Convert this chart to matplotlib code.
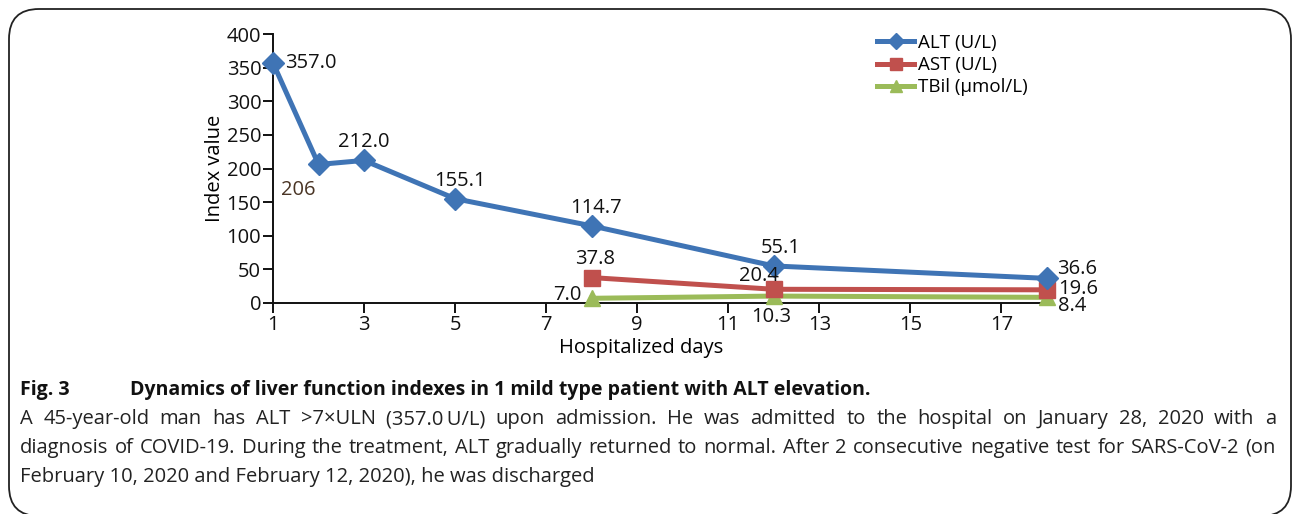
import matplotlib
matplotlib.use("Agg")
import matplotlib.pyplot as plt
from matplotlib.patches import FancyBboxPatch

plt.rcParams['font.family'] = ['Open Sans', 'DejaVu Sans']

days_alt = [1, 2, 3, 5, 8, 12, 18]
alt = [357.0, 206, 212.0, 155.1, 114.7, 55.1, 36.6]
alt_labels = ['357.0', '206', '212.0', '155.1', '114.7', '55.1', '36.6']

days_ast = [8, 12, 18]
ast = [37.8, 20.4, 19.6]
ast_labels = ['37.8', '20.4', '19.6']

days_tbil = [8, 12, 18]
tbil = [7.0, 10.3, 8.4]
tbil_labels = ['7.0', '10.3', '8.4']

xticks = [1, 3, 5, 7, 9, 11, 13, 15, 17]
yticks = [0, 50, 100, 150, 200, 250, 300, 350, 400]

c_alt = '#3f74b5'
c_ast = '#c0504d'
c_tbil = '#9bbb59'

W, H = 1292, 514
fig = plt.figure(figsize=(W / 100, H / 100), dpi=100)

# background frame with rounded corners (pixel coords)
bg = fig.add_axes([0, 0, 1, 1])
bg.set_xlim(0, W)
bg.set_ylim(H, 0)
bg.axis('off')
bg.add_patch(FancyBboxPatch((9 + 30, 9 + 30), W - 1 - 9 - 60, 516 - 9 - 60,
                            boxstyle='round,pad=30,rounding_size=30',
                            fc='white', ec='#222222', lw=1.3))

L, R, T, B = 273, 1047, 34, 303
ax = fig.add_axes([L / W, 1 - B / H, (R - L) / W, (B - T) / H])
ax.patch.set_alpha(0)

ax.plot(days_alt, alt, color=c_alt, lw=3.6, marker='D', ms=11.5, label='ALT (U/L)', clip_on=False, zorder=5)
ax.plot(days_ast, ast, color=c_ast, lw=3.6, marker='s', ms=11, label='AST (U/L)', clip_on=False, zorder=4)
ax.plot(days_tbil, tbil, color=c_tbil, lw=3.6, marker='^', ms=12, label='TBil (μmol/L)', clip_on=False, zorder=3)

fs = 14.5
ax.set_xlim(1, 18)
ax.set_ylim(0, 400)
ax.set_xticks(xticks)
ax.set_yticks(yticks)
ax.spines['top'].set_visible(False)
ax.spines['right'].set_visible(False)
for s in ['left', 'bottom']:
    ax.spines[s].set_linewidth(1.4)
    ax.spines[s].set_color('#111111')
ax.tick_params(direction='out', length=7, width=1.4, labelsize=fs, pad=1.5, colors='#111111')

ax.set_xlabel('Hospitalized days', fontsize=fs, labelpad=1)
ax.xaxis.set_label_coords((641 - L) / (R - L), -0.13)
ax.set_ylabel('Index value', fontsize=fs, labelpad=1)

# data labels: offsets in pixels (dx, dy up), alignment
px = 0.72
alt_off = [(12, 0, 'left'), (-20, -26, 'center'), (0, 18, 'center'), (5, 18, 'center'),
           (4, 18, 'center'), (7, 18, 'center'), (10, 9, 'left')]
ast_off = [(3, 19, 'center'), (-15, 13, 'center'), (11, 1, 'left')]
tbil_off = [(-10, 3, 'right'), (-3, -21, 'center'), (11, -9, 'left')]

for xs, ys, labs, offs in [(days_alt, alt, alt_labels, alt_off),
                           (days_ast, ast, ast_labels, ast_off),
                           (days_tbil, tbil, tbil_labels, tbil_off)]:
    for x, y, lab, (dx, dy, ha) in zip(xs, ys, labs, offs):
        col = '#4a3525' if lab == '206' else '#111111'
        ax.annotate(lab, (x, y), xytext=(dx * px, dy * px), textcoords='offset points',
                    ha=ha, va='center', fontsize=fs, color=col, zorder=6,
                    annotation_clip=False)

leg = ax.legend(loc='upper left', bbox_to_anchor=(877 / W, 1 - 34 / H),
                bbox_transform=fig.transFigure, frameon=False, fontsize=13.5,
                handlelength=2.0, handletextpad=0.2, labelspacing=0.22,
                borderpad=0, borderaxespad=0, markerscale=0.75)

# caption
fig.text(20 / W, 1 - 390 / H, 'Fig. 3', fontsize=14, fontweight='bold', va='center', color='#111111')
fig.text(130 / W, 1 - 390 / H, 'Dynamics of liver function indexes in 1 mild type patient with ALT elevation.',
         fontsize=14, fontweight='bold', va='center', color='#111111')
cap_lines = [
    'A 45-year-old man has ALT >7×ULN (357.0\u2009U/L) upon admission. He was admitted to the hospital on January 28, 2020 with a',
    'diagnosis of COVID-19. During the treatment, ALT gradually returned to normal. After 2 consecutive negative test for SARS-CoV-2 (on',
    'February 10, 2020 and February 12, 2020), he was discharged',
]
cap_size = 14.5
renderer = fig.canvas.get_renderer()
x0, x1 = 20, 1276
for i, line in enumerate(cap_lines):
    yy = 1 - (419 + 29 * i) / H
    if i == len(cap_lines) - 1:
        fig.text(x0 / W, yy, line, fontsize=cap_size, va='center', color='#222222')
        continue
    # justified line: place words one by one
    words = line.split(' ')
    items = [fig.text(0, yy, w, fontsize=cap_size, va='center', color='#222222') for w in words]
    widths = [t.get_window_extent(renderer).width for t in items]
    gap = (x1 - x0 - sum(widths)) / (len(words) - 1)
    xpos = x0
    for t, wd in zip(items, widths):
        t.set_x(xpos / W)
        xpos += wd + gap

fig.savefig('out.png', dpi=100)
